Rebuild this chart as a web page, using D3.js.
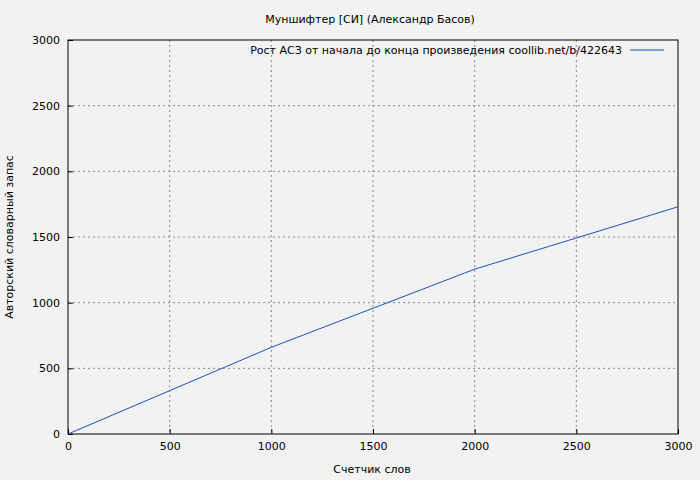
<!DOCTYPE html>
<html><head><meta charset="utf-8">
<script src="https://cdn.jsdelivr.net/npm/d3@7"></script>
<style>body{margin:0;background:#f2f2f2}</style>
</head><body><div id="chart"></div>
<script>
const words = [0, 1000, 2000, 3000];
const vocab = [0, 660, 1255, 1730];
const xTicks = [0, 500, 1000, 1500, 2000, 2500, 3000];
const yTicks = [0, 500, 1000, 1500, 2000, 2500, 3000];

const margin = {top: 40, right: 22, bottom: 46, left: 68};
const width = 700 - margin.left - margin.right;
const height = 480 - margin.top - margin.bottom;

const svg = d3.select("#chart").append("svg")
  .attr("width", 700).attr("height", 480)
  .style("font-family", "DejaVu Sans").style("font-size", "11px");
svg.append("rect").attr("width", 700).attr("height", 480).attr("fill", "#f2f2f2");

const g = svg.append("g").attr("transform", "translate(" + margin.left + "," + margin.top + ")");

const x = d3.scaleLinear().domain([0, 3000]).range([0, width]);
const y = d3.scaleLinear().domain([0, 3000]).range([height, 0]);

// grid
g.append("g").selectAll("line").data(xTicks.slice(1, -1)).join("line")
  .attr("x1", d => x(d)).attr("x2", d => x(d)).attr("y1", 0).attr("y2", height)
  .attr("stroke", "#888").attr("stroke-dasharray", "2,3");
g.append("g").selectAll("line").data(yTicks.slice(1, -1)).join("line")
  .attr("y1", d => y(d)).attr("y2", d => y(d)).attr("x1", 0).attr("x2", width)
  .attr("stroke", "#888").attr("stroke-dasharray", "2,3");

const xAxis = g.append("g").attr("transform", "translate(0," + height + ")")
  .call(d3.axisBottom(x).tickValues(xTicks).tickSize(-5).tickPadding(8).tickFormat(d3.format("d")));
const yAxis = g.append("g")
  .call(d3.axisLeft(y).tickValues(yTicks).tickSize(-5).tickPadding(8).tickFormat(d3.format("d")));
[xAxis, yAxis].forEach(a => {
  a.selectAll("text").attr("fill", "#000").style("font-family", "DejaVu Sans").style("font-size", "11px");
  a.select(".domain").remove();
});

g.append("rect").attr("width", width).attr("height", height)
  .attr("fill", "none").attr("stroke", "#000");

g.append("path").datum(words.map((w, i) => [w, vocab[i]]))
  .attr("d", d3.line().x(d => x(d[0])).y(d => y(d[1])))
  .attr("fill", "none").attr("stroke", "#1f4fb4").attr("stroke-width", 1);

// legend
g.append("text").attr("x", width - 56).attr("y", 14).attr("text-anchor", "end")
  .text("Рост АСЗ от начала до конца произведения coollib.net/b/422643");
g.append("line").attr("x1", width - 48).attr("x2", width - 14).attr("y1", 10).attr("y2", 10)
  .attr("stroke", "#1f4fb4");

svg.append("text").attr("x", 370).attr("y", 23).attr("text-anchor", "middle")
  .text("Муншифтер [СИ] (Александр Басов)");
svg.append("text").attr("x", 372).attr("y", 473).attr("text-anchor", "middle").text("Счетчик слов");
svg.append("text").attr("transform", "translate(13,237) rotate(-90)").attr("text-anchor", "middle")
  .text("Авторский словарный запас");
</script></body></html>
